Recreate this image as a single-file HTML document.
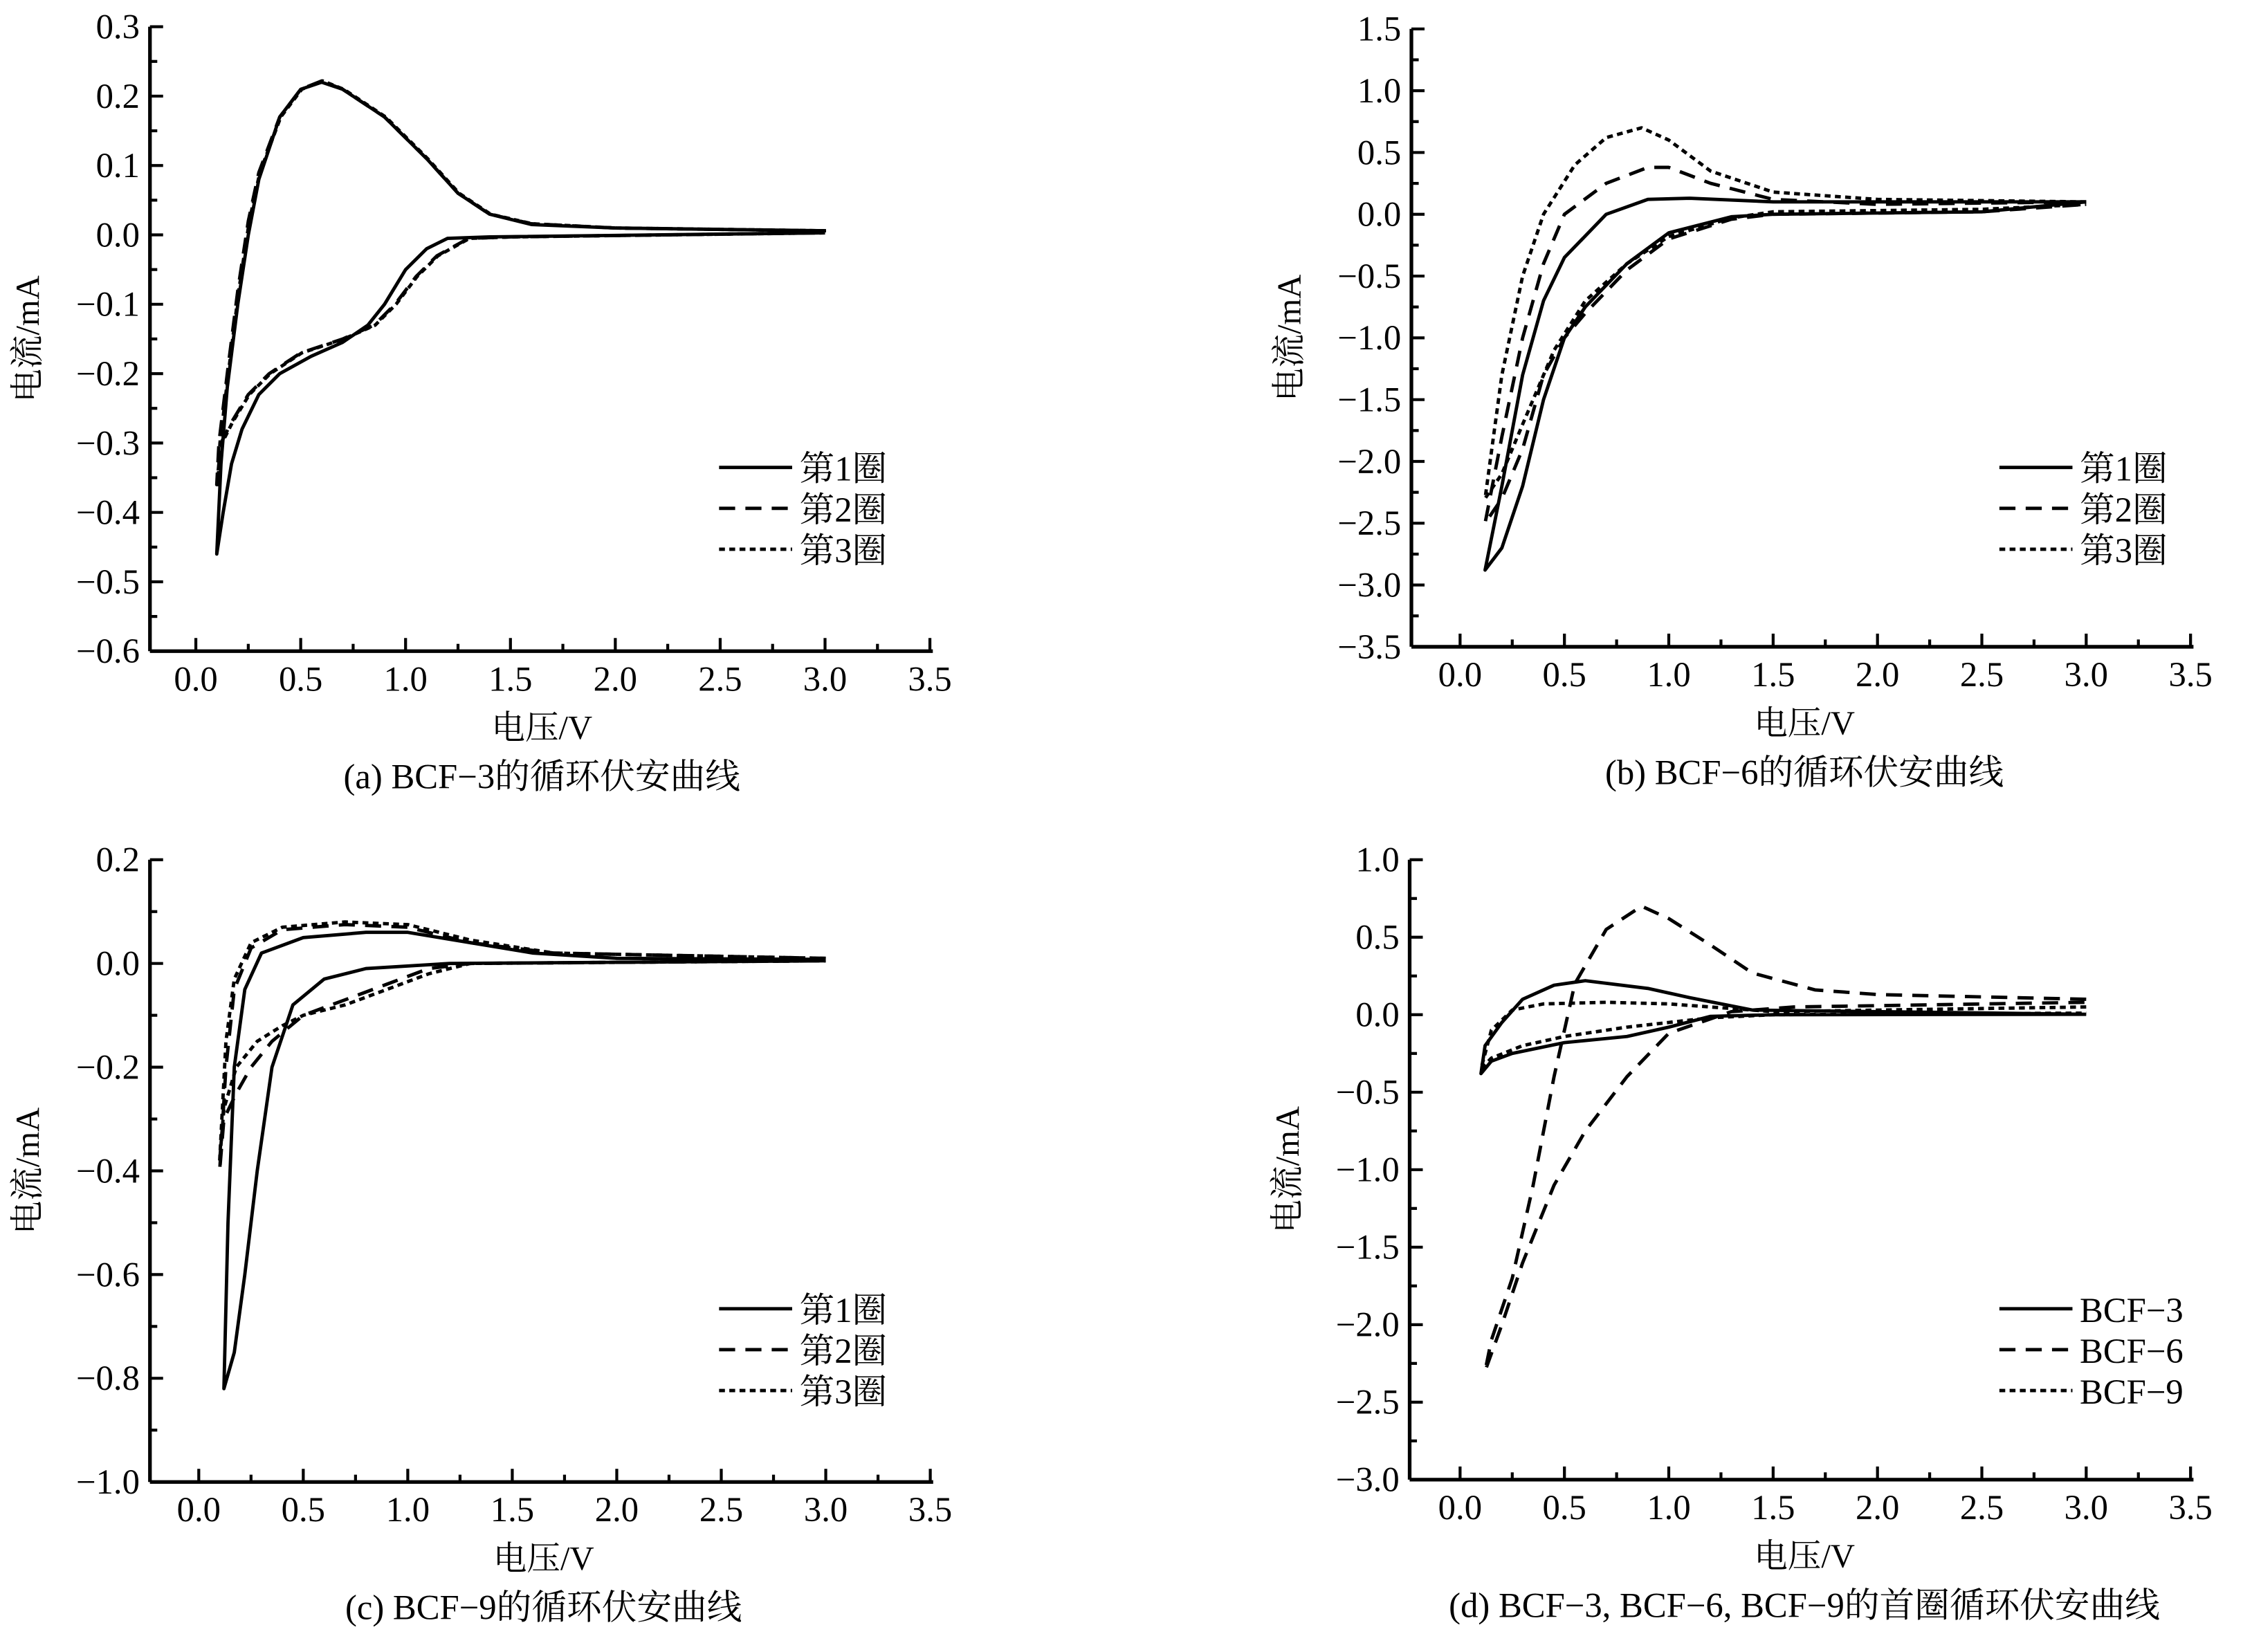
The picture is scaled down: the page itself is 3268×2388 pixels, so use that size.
<!DOCTYPE html>
<html><head><meta charset="utf-8"><style>html,body{margin:0;padding:0;background:#fff}svg{display:block}</style></head>
<body>
<svg id="s" width="3268" height="2388" viewBox="0 0 1547 1131" preserveAspectRatio="none" xmlns="http://www.w3.org/2000/svg" font-family="Liberation Serif, Noto Serif CJK SC, serif">
</svg>
<script>
const S=document.getElementById('s');let h='';
function P(o){
 const X=v=>o.x0+v*o.xs, Y=v=>o.y0-v*o.ys;
 const L=o.left, B=Y(o.ymin), T=Y(o.ymax), R=X(3.5)+2;
 h+=`<line x1="${L}" y1="${T}" x2="${L}" y2="${B}" stroke="#000" stroke-width="2.5"/>`;
 h+=`<line x1="${L}" y1="${B}" x2="${R}" y2="${B}" stroke="#000" stroke-width="2.5"/>`;
 for(let i=0;i<=14;i++){const v=i*0.25,x=X(v);const len=i%2?5:9;h+=`<line x1="${x}" y1="${B}" x2="${x}" y2="${B-len}" stroke="#000" stroke-width="2"/>`;if(i%2==0)h+=`<text x="${x}" y="${B+27}" font-size="24" text-anchor="middle">${v.toFixed(1)}</text>`;}
 const n=Math.round((o.ymax-o.ymin)/o.yst*2);
 for(let i=0;i<=n;i++){const v=o.ymin+i*o.yst/2,y=Y(v);const len=i%2?5:9;h+=`<line x1="${L}" y1="${y}" x2="${L+len}" y2="${y}" stroke="#000" stroke-width="2"/>`;if(i%2==0){let t=v.toFixed(1);if(Math.abs(v)<1e-9)t='0.0';t=t.replace('-','\u2212');h+=`<text x="${L-7}" y="${y+8}" font-size="24" text-anchor="end">${t}</text>`;}}
 h+=`<text x="${X(1.65)}" y="${B+60}" font-size="23" text-anchor="middle">电压/V</text>`;
 h+=`<text transform="translate(${L-76},${(T+B)/2}) rotate(-90)" font-size="23" text-anchor="middle">电流/mA</text>`;
 h+=`<text x="${X(1.65)}" y="${B+94}" font-size="24" text-anchor="middle">${o.cap}</text>`;
 const dash={s:'',d:'stroke-dasharray="11,7"',o:'stroke-dasharray="4,3"'};
 o.series.forEach(s=>{let d='';s.pts.forEach((p,i)=>{d+=(i?'L':'M')+X(p[0]).toFixed(1)+','+Y(p[1]).toFixed(1)});
  h+=`<path d="${d}" fill="none" stroke="#000" stroke-width="2.3" stroke-linejoin="round" ${dash[s.t]}/>`;});
 o.leg.forEach((g,i)=>{const y=o.ly+i*28;h+=`<line x1="${o.lx}" y1="${y}" x2="${o.lx+50}" y2="${y}" stroke="#000" stroke-width="2.3" ${dash['sdo'[i]]}/>`;h+=`<text x="${o.lx+55}" y="${y+9}" font-size="24">${g}</text>`;});
}
const a1=[[3,0.006],[2,0.01],[1.6,0.015],[1.4,0.03],[1.25,0.06],[1.1,0.11],[0.9,0.17],[0.7,0.21],[0.6,0.22],[0.5,0.21],[0.4,0.17],[0.3,0.08],[0.25,0.0],[0.2,-0.1],[0.15,-0.22],[0.12,-0.33],[0.1,-0.46],[0.13,-0.4],[0.17,-0.33],[0.22,-0.28],[0.3,-0.23],[0.4,-0.2],[0.55,-0.175],[0.7,-0.155],[0.82,-0.13],[0.9,-0.1],[1.0,-0.05],[1.1,-0.02],[1.2,-0.005],[1.4,-0.003],[3,0.003]];
const a2=[[3,0.006],[2,0.01],[1.6,0.016],[1.4,0.03],[1.25,0.06],[1.1,0.11],[0.9,0.17],[0.7,0.21],[0.6,0.222],[0.5,0.21],[0.4,0.17],[0.3,0.09],[0.25,0.02],[0.2,-0.08],[0.15,-0.2],[0.11,-0.3],[0.1,-0.36],[0.12,-0.3],[0.17,-0.27],[0.25,-0.23],[0.35,-0.2],[0.5,-0.17],[0.7,-0.15],[0.85,-0.13],[0.95,-0.1],[1.05,-0.06],[1.15,-0.03],[1.3,-0.005],[1.5,-0.003],[3,0.003]];
P({x0:134,xs:143.5,y0:160.8,ys:475,left:102.6,ymin:-0.6,ymax:0.3,yst:0.1,cap:'(a) BCF−3的循环伏安曲线',lx:492,ly:320,leg:['第1圈','第2圈','第3圈'],
 series:[{t:'s',pts:a1},{t:'d',pts:a2},{t:'o',pts:a2.map(p=>[p[0]+0.005,p[1]])}]});
const b1=[[3,0.1],[1.5,0.1],[1.1,0.13],[0.9,0.12],[0.7,0],[0.5,-0.35],[0.4,-0.7],[0.3,-1.3],[0.2,-2.2],[0.12,-2.88],[0.2,-2.7],[0.3,-2.2],[0.4,-1.5],[0.5,-1.0],[0.6,-0.75],[0.8,-0.4],[1.0,-0.15],[1.3,-0.02],[1.5,0],[2.5,0.02],[3,0.1]];
const b2=[[3,0.1],[2,0.08],[1.5,0.12],[1.2,0.25],[1.0,0.38],[0.9,0.38],[0.7,0.25],[0.5,0],[0.4,-0.4],[0.3,-1.0],[0.2,-1.8],[0.12,-2.5],[0.2,-2.3],[0.3,-1.9],[0.4,-1.3],[0.5,-1.0],[0.6,-0.8],[0.8,-0.45],[1.0,-0.2],[1.3,-0.04],[1.5,0],[2.5,0.02],[3,0.08]];
const b3=[[3,0.1],[2,0.12],[1.5,0.18],[1.2,0.35],[1.0,0.6],[0.87,0.7],[0.7,0.62],[0.55,0.4],[0.4,0],[0.3,-0.5],[0.2,-1.3],[0.12,-2.3],[0.2,-2.1],[0.3,-1.7],[0.45,-1.1],[0.6,-0.7],[0.8,-0.4],[1.0,-0.18],[1.3,-0.03],[1.5,0.02],[2.5,0.04],[3,0.08]];
P({x0:999,xs:142.8,y0:146.7,ys:84.6,left:965.7,ymin:-3.5,ymax:1.5,yst:0.5,cap:'(b) BCF−6的循环伏安曲线',lx:1368,ly:320,leg:['第1圈','第2圈','第3圈'],
 series:[{t:'s',pts:b1},{t:'d',pts:b2},{t:'o',pts:b3}]});
const c1=[[3,0.008],[2,0.01],[1.6,0.02],[1.3,0.04],[1.0,0.06],[0.8,0.06],[0.5,0.05],[0.3,0.02],[0.22,-0.05],[0.17,-0.2],[0.14,-0.5],[0.12,-0.82],[0.17,-0.75],[0.22,-0.6],[0.28,-0.4],[0.35,-0.2],[0.45,-0.08],[0.6,-0.03],[0.8,-0.01],[1.2,0],[3,0.005]];
const c2=[[3,0.01],[1.7,0.02],[1.3,0.04],[1.0,0.07],[0.7,0.075],[0.4,0.065],[0.25,0.03],[0.17,-0.05],[0.13,-0.2],[0.1,-0.4],[0.12,-0.3],[0.18,-0.25],[0.25,-0.2],[0.35,-0.15],[0.5,-0.1],[0.7,-0.07],[0.9,-0.04],[1.1,-0.01],[1.3,0],[3,0.005]];
const c3=[[3,0.01],[1.7,0.02],[1.3,0.045],[1.0,0.075],[0.7,0.08],[0.4,0.07],[0.25,0.04],[0.17,-0.03],[0.13,-0.15],[0.1,-0.38],[0.12,-0.28],[0.18,-0.2],[0.28,-0.15],[0.4,-0.12],[0.5,-0.1],[0.7,-0.08],[0.9,-0.05],[1.1,-0.02],[1.3,0],[3,0.005]];
P({x0:136,xs:143,y0:659.6,ys:355,left:102.6,ymin:-1.0,ymax:0.2,yst:0.2,cap:'(c) BCF−9的循环伏安曲线',lx:492,ly:896,leg:['第1圈','第2圈','第3圈'],
 series:[{t:'s',pts:c1},{t:'d',pts:c2},{t:'o',pts:c3}]});
const d3=[[3,0.003],[1.4,0.03],[1.1,0.11],[0.9,0.17],[0.6,0.22],[0.45,0.19],[0.3,0.1],[0.2,-0.05],[0.12,-0.2],[0.1,-0.38],[0.15,-0.3],[0.25,-0.25],[0.5,-0.18],[0.8,-0.14],[1.0,-0.08],[1.2,-0.01],[1.5,0],[3,0.003]];
const d6=[[3,0.1],[2,0.13],[1.7,0.16],[1.4,0.27],[1.2,0.45],[1.0,0.62],[0.87,0.7],[0.7,0.55],[0.55,0.2],[0.45,-0.4],[0.35,-1.1],[0.25,-1.7],[0.15,-2.1],[0.12,-2.3],[0.2,-2.0],[0.3,-1.6],[0.45,-1.1],[0.6,-0.75],[0.8,-0.4],[1.0,-0.12],[1.3,0.02],[1.6,0.05],[3,0.08]];
const d9=[[3,0.05],[1.5,0.02],[1.2,0.05],[1.0,0.07],[0.7,0.08],[0.4,0.07],[0.25,0.03],[0.15,-0.1],[0.1,-0.35],[0.15,-0.28],[0.3,-0.2],[0.5,-0.14],[0.8,-0.08],[1.0,-0.05],[1.2,-0.02],[1.5,0],[3,0.01]];
P({x0:999,xs:142.8,y0:694.7,ys:106.1,left:964.5,ymin:-3.0,ymax:1.0,yst:0.5,cap:'(d) BCF−3, BCF−6, BCF−9的首圈循环伏安曲线',lx:1368,ly:896,leg:['BCF−3','BCF−6','BCF−9'],
 series:[{t:'s',pts:d3},{t:'d',pts:d6},{t:'o',pts:d9}]});
S.innerHTML=h;
</script>
</body></html>
